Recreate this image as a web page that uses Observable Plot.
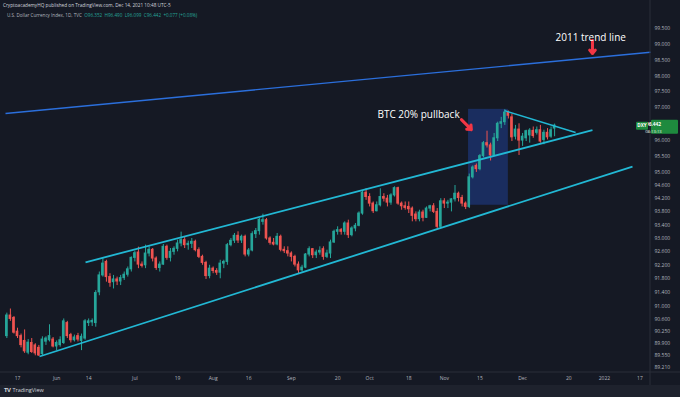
<!DOCTYPE html>
<html><head><meta charset="utf-8">
<script src="https://cdn.jsdelivr.net/npm/d3@7"></script>
<script src="https://cdn.jsdelivr.net/npm/@observablehq/plot@0.6"></script>
<style>
body{margin:0;background:#1e222d;}
#wrap{position:relative;width:680px;height:397px;background:#1e222d;overflow:hidden;font-family:"Open Sans",sans-serif;}
#chart{position:absolute;left:0;top:0;}
.hd{position:absolute;white-space:nowrap;color:#d1d4dc;}
#h1{left:3px;top:2px;font-size:4.7px;}
#h2{left:7px;top:12px;font-size:4.6px;color:#b2b5be;}
#h2 span{color:#26a69a;}
#foot{position:absolute;left:4px;top:386px;font-size:5.5px;color:#d1d4dc;}
#foot b{font-size:6px;letter-spacing:-0.5px;margin-right:2px;}
</style></head>
<body><div id="wrap">
<div id="chart"></div>
<div class="hd" id="h1">CryptoacademyHQ published on TradingView.com, Dec 14, 2021 10:48 UTC-5</div>
<div class="hd" id="h2">U.S. Dollar Currency Index, 1D, TVC &nbsp;<span>O96.352 &nbsp;H96.490 &nbsp;L96.099 &nbsp;C96.442 &nbsp;+0.077 (+0.08%)</span></div>
<div id="foot"><b>TV</b>TradingView</div>
</div>
<script>
// ---- data ----
const dates = [
"2021-05-12","2021-05-13","2021-05-14","2021-05-17","2021-05-18","2021-05-19","2021-05-20","2021-05-21","2021-05-24","2021-05-25","2021-05-26","2021-05-27","2021-05-28","2021-05-31",
"2021-06-01","2021-06-02","2021-06-03","2021-06-04","2021-06-07","2021-06-08","2021-06-09","2021-06-10","2021-06-11","2021-06-14","2021-06-15","2021-06-16","2021-06-17","2021-06-18","2021-06-21","2021-06-22","2021-06-23","2021-06-24","2021-06-25","2021-06-28","2021-06-29","2021-06-30",
"2021-07-01","2021-07-02","2021-07-05","2021-07-06","2021-07-07","2021-07-08","2021-07-09","2021-07-12","2021-07-13","2021-07-14","2021-07-15","2021-07-16","2021-07-19","2021-07-20","2021-07-21","2021-07-22","2021-07-23","2021-07-26","2021-07-27","2021-07-28","2021-07-29","2021-07-30",
"2021-08-02","2021-08-03","2021-08-04","2021-08-05","2021-08-06","2021-08-09","2021-08-10","2021-08-11","2021-08-12","2021-08-13","2021-08-16","2021-08-17","2021-08-18","2021-08-19","2021-08-20","2021-08-23","2021-08-24","2021-08-25","2021-08-26","2021-08-27","2021-08-30","2021-08-31",
"2021-09-01","2021-09-02","2021-09-03","2021-09-06","2021-09-07","2021-09-08","2021-09-09","2021-09-10","2021-09-13","2021-09-14","2021-09-15","2021-09-16","2021-09-17","2021-09-20","2021-09-21","2021-09-22","2021-09-23","2021-09-24","2021-09-27","2021-09-28","2021-09-29","2021-09-30",
"2021-10-01","2021-10-04","2021-10-05","2021-10-06","2021-10-07","2021-10-08","2021-10-11","2021-10-12","2021-10-13","2021-10-14","2021-10-15","2021-10-18","2021-10-19","2021-10-20","2021-10-21","2021-10-22","2021-10-25","2021-10-26","2021-10-27","2021-10-28","2021-10-29",
"2021-11-01","2021-11-02","2021-11-03","2021-11-04","2021-11-05","2021-11-08","2021-11-09","2021-11-10","2021-11-11","2021-11-12","2021-11-15","2021-11-16","2021-11-17","2021-11-18","2021-11-19","2021-11-22","2021-11-23","2021-11-24","2021-11-25","2021-11-26","2021-11-29","2021-11-30",
"2021-12-01","2021-12-02","2021-12-03","2021-12-06","2021-12-07","2021-12-08","2021-12-09","2021-12-10","2021-12-13","2021-12-14"];
const open = [
90.12,90.72,90.65,90.25,90.12,89.98,89.64,89.92,89.85,89.78,89.60,89.96,90.00,90.02,
89.82,89.86,89.92,90.50,90.15,90.00,90.12,89.98,90.05,90.50,90.52,90.50,91.40,91.90,92.30,91.85,91.70,91.78,91.72,91.82,91.92,92.08,
92.42,92.58,92.22,92.20,92.55,92.66,92.40,92.12,92.22,92.75,92.42,92.60,92.69,92.85,92.95,92.80,92.84,92.90,92.65,92.45,92.27,91.88,
92.10,92.03,91.98,92.25,92.30,92.80,92.93,93.08,92.94,93.05,92.52,92.64,93.13,93.22,93.50,93.55,93.00,92.87,92.82,93.05,92.66,92.62,
92.55,92.45,92.22,92.05,92.13,92.52,92.68,92.50,92.58,92.68,92.45,92.55,92.88,93.20,93.25,93.20,93.45,93.10,93.30,93.38,93.75,94.38,
94.25,94.05,93.82,94.00,94.25,94.20,94.08,94.30,94.52,94.05,93.97,93.95,93.90,93.72,93.58,93.78,93.62,93.90,93.97,93.80,93.35,
94.12,94.05,94.08,94.18,94.35,94.22,94.05,93.95,94.85,95.20,95.10,95.50,95.90,95.83,95.52,96.05,96.50,96.55,96.85,96.70,96.10,96.32,
95.98,96.05,96.14,96.28,96.22,96.30,96.00,96.22,96.10,96.352];
const high = [
90.79,90.91,90.69,90.35,90.18,90.30,90.02,90.05,89.90,89.85,90.10,90.10,90.45,90.08,
89.98,90.10,90.62,90.55,90.20,90.15,90.20,90.18,90.60,90.62,90.62,91.45,92.00,92.41,92.35,91.95,91.90,91.85,91.90,92.00,92.15,92.45,
92.62,92.74,92.30,92.80,92.75,92.70,92.45,92.30,92.82,92.80,92.70,92.75,92.95,93.19,93.05,92.92,93.00,92.95,92.72,92.50,92.32,92.20,
92.15,92.10,92.35,92.35,92.85,93.00,93.15,93.20,93.10,93.10,92.70,93.20,93.30,93.60,93.73,93.60,93.05,93.00,93.15,93.10,92.75,92.75,
92.60,92.50,92.30,92.20,92.55,92.75,92.70,92.65,92.75,92.75,92.65,92.95,93.25,93.35,93.30,93.50,93.55,93.35,93.45,93.80,94.43,94.50,
94.35,94.10,94.10,94.50,94.35,94.30,94.35,94.56,94.55,94.10,94.10,94.10,93.95,93.80,93.85,93.85,93.95,94.00,94.05,93.90,94.20,
94.20,94.15,94.20,94.60,94.40,94.30,94.10,94.95,95.20,95.26,95.55,95.95,96.27,95.90,96.20,96.55,96.70,96.94,96.90,96.80,96.45,96.50,
96.20,96.30,96.35,96.40,96.40,96.45,96.30,96.35,96.40,96.490];
const low = [
90.05,90.55,90.18,90.05,89.78,89.62,89.58,89.62,89.55,89.53,89.55,89.85,89.95,89.78,
89.70,89.80,89.88,90.05,89.92,89.95,89.95,89.70,90.00,90.40,90.40,90.38,91.30,91.85,91.70,91.55,91.50,91.60,91.60,91.75,91.85,92.00,
92.30,92.10,92.12,92.10,92.45,92.30,92.05,92.00,92.20,92.35,92.30,92.50,92.60,92.75,92.70,92.65,92.70,92.60,92.40,92.20,91.78,91.80,
91.95,91.90,91.80,92.10,92.20,92.75,92.85,92.85,92.85,92.45,92.45,92.60,93.00,93.10,93.40,92.95,92.80,92.78,92.78,92.60,92.55,92.45,
92.30,92.15,91.94,92.00,92.10,92.45,92.40,92.40,92.50,92.35,92.40,92.40,92.85,93.10,93.10,93.10,93.00,93.05,93.20,93.35,93.70,94.15,
93.95,93.75,93.80,93.95,94.10,93.95,94.00,94.25,94.00,93.85,93.85,93.75,93.50,93.50,93.50,93.50,93.60,93.80,93.75,93.28,93.30,
93.90,93.90,93.80,94.10,94.10,93.95,93.87,93.90,94.80,95.00,95.05,95.45,95.75,95.35,95.50,95.95,96.35,96.45,96.65,95.95,96.00,95.52,
95.80,95.95,95.90,96.05,96.15,95.90,95.85,96.00,96.05,96.099];
const close = [
90.72,90.62,90.22,90.12,89.86,89.68,89.93,89.66,89.62,89.56,90.02,90.05,90.12,89.82,
89.92,90.00,90.55,90.12,90.00,90.08,90.02,90.10,90.55,90.55,90.56,91.38,91.90,92.25,91.85,91.68,91.78,91.72,91.82,91.92,92.08,92.42,
92.56,92.22,92.18,92.55,92.66,92.40,92.12,92.22,92.75,92.42,92.60,92.69,92.85,92.95,92.80,92.84,92.90,92.65,92.45,92.27,91.88,92.10,
92.03,91.98,92.25,92.30,92.80,92.93,93.08,92.94,93.05,92.52,92.64,93.13,93.22,93.56,93.55,93.00,92.87,92.82,93.05,92.66,92.62,92.55,
92.45,92.22,92.05,92.13,92.52,92.68,92.50,92.58,92.63,92.45,92.55,92.88,93.20,93.25,93.20,93.45,93.10,93.30,93.38,93.75,94.38,94.25,
94.05,93.82,94.00,94.25,94.20,94.08,94.30,94.52,94.05,93.97,93.92,93.88,93.68,93.58,93.78,93.62,93.90,93.97,93.80,93.35,94.12,
94.05,94.08,94.18,94.35,94.22,94.05,93.95,94.85,95.15,95.10,95.50,95.90,95.83,95.52,96.05,96.50,96.55,96.85,96.75,96.08,96.32,95.98,
96.10,96.27,96.29,96.12,96.30,95.95,96.22,96.08,96.30,96.442];

const tickDates  = ["2021-05-17","2021-06-01","2021-06-14","2021-07-01","2021-07-19","2021-08-02","2021-08-16","2021-09-01","2021-09-20","2021-10-01","2021-10-18","2021-11-01","2021-11-15","2021-12-01","2021-12-20","2022-01-03","2022-01-17"];
const tickLabels = ["17","Jun","14","Jul","19","Aug","16","Sep","20","Oct","18","Nov","15","Dec","20","2022","17"];
const priceTicks = [99.5,99.0,98.5,98.0,97.5,97.0,96.0,95.5,95.0,94.6,94.2,93.8,93.4,93.0,92.6,92.2,91.8,91.4,91.0,90.6,90.25,89.9,89.55,89.21];

// drawn trend lines: bar index (from first bar) and price at both ends
const lineNames = ["2011","channelTop","channelBottom","triangleTop"];
const lineX1 = [-0.37, 22.12, 9.18, 139.9];
const lineP1 = [96.82, 92.29, 89.53, 96.91];
const lineX2 = [180.96, 164.65, 175.9, 159.9];
const lineP2 = [98.75, 96.30, 95.18, 96.23];

// highlighted zone
const zoneX = [129.8, 141.0];
const zoneP = [94.0, 96.95];

// notes and arrows
const noteText = ["2011 trend line", "BTC 20% pullback"];
const noteX = [154.25, 104.2];
const noteP = [99.22, 96.77];
const arrowX1 = [164.65, 127.8], arrowP1 = [99.13, 96.63];
const arrowX2 = [164.65, 130.6], arrowP2 = [98.71, 96.32];

const lastLabel = {symbol: "DXY", price: 96.442, countdown: "08:13:13"};

// ---- build ----
const parse = d3.utcParse("%Y-%m-%d");
const start = parse(dates[0]);
const barIndex = d => d3.utcDay.range(start, d).filter(t => t.getUTCDay() % 6 !== 0).length;
const candles = dates.map((d, k) => ({i: barIndex(parse(d)), o: open[k], h: high[k], l: low[k], c: close[k]}));
const tickIdx = tickDates.map(d => barIndex(parse(d)));
const ticks = tickIdx.map((v, k) => ({i: v, label: tickLabels[k]}));
const lines = lineNames.map((n, k) => ({n, x1: lineX1[k], y1: lineP1[k], x2: lineX2[k], y2: lineP2[k]}));
const notes = noteText.map((t, k) => ({t, x: noteX[k], y: noteP[k]}));
const arrows = arrowX1.map((v, k) => ({x1: v, y1: arrowP1[k], x2: arrowX2[k], y2: arrowP2[k]}));

const UP = "#26a69a", DOWN = "#ef5350";
const col = d => d.c >= d.o ? UP : DOWN;
const lineColor = {"2011": "#2b6fdc", channelTop: "#22b8d4", channelBottom: "#22b8d4", triangleTop: "#22b8d4"};
const lineWidth = {"2011": 1.4, channelTop: 1.8, channelBottom: 1.8, triangleTop: 1.5};
const X_DOMAIN = [-1.78, 180.96], Y_DOMAIN = [89.07, 100.41];
const fmt = d3.format(".3f");

const chart = Plot.plot({
  width: 680, height: 385,
  marginLeft: 0, marginRight: 30, marginTop: 0, marginBottom: 13,
  style: {background: "#151924", color: "#b2b5be", fontFamily: "Open Sans, sans-serif", fontSize: "5px", overflow: "visible"},
  x: {type: "linear", domain: X_DOMAIN, axis: null},
  y: {type: "log", domain: Y_DOMAIN, axis: null},
  marks: [
    Plot.rect([0], {x1: () => zoneX[0], x2: () => zoneX[1], y1: () => zoneP[0], y2: () => zoneP[1], fill: "#2962ff", fillOpacity: 0.27}),
    Plot.ruleX(candles, {x: "i", y1: "l", y2: "h", stroke: col, strokeWidth: 1}),
    Plot.rect(candles, {x1: d => d.i - 0.37, x2: d => d.i + 0.37, y1: "o", y2: "c", fill: col, insetTop: -0.5, insetBottom: -0.5}),
    Plot.link(lines, {x1: "x1", y1: "y1", x2: "x2", y2: "y2", stroke: d => lineColor[d.n], strokeWidth: d => lineWidth[d.n]}),
    Plot.arrow(arrows, {x1: "x1", y1: "y1", x2: "x2", y2: "y2", stroke: "#f23645", strokeWidth: 3, headLength: 7, headAngle: 80}),
    Plot.text(notes, {x: "x", y: "y", text: "t", textAnchor: "start", fill: "#ffffff", fontSize: 10, fontFamily: "Open Sans, sans-serif"}),
    // time axis labels (below the frame)
    Plot.text(ticks, {x: "i", y: Y_DOMAIN[0], text: "label", dy: 6, fill: "#b2b5be", fontSize: 5, lineAnchor: "middle"}),
    // price axis labels (right of the frame)
    Plot.text(priceTicks, {x: X_DOMAIN[1], y: d => d, text: d => fmt(d), dx: 4, textAnchor: "start", fill: "#b2b5be", fontSize: 5})
  ]
});
document.getElementById("chart").appendChild(chart);

// separators and the last-price label, placed with the chart's scales
const sx = chart.scale("x"), sy = chart.scale("y");
const svg = d3.select(chart);
const xr = sx.range[1], yb = sy.range[0];
svg.append("line").attr("x1", xr).attr("x2", xr).attr("y1", 0).attr("y2", 385).attr("stroke", "#2a2e39");
svg.append("line").attr("x1", 0).attr("x2", 680).attr("y1", yb).attr("y2", yb).attr("stroke", "#2a2e39");
const yl = sy.apply(lastLabel.price);
const g = svg.append("g").attr("font-family", "Open Sans, sans-serif");
g.append("rect").attr("x", xr + 1).attr("y", yl - 5.5).attr("width", 27).attr("height", 14).attr("fill", "#1e8a3e").attr("rx", 1);
g.append("text").attr("x", xr + 3.5).attr("y", yl + 1).attr("font-size", 4.8).attr("font-weight", "bold").attr("fill", "#fff").text(lastLabel.price.toFixed(3));
g.append("text").attr("x", xr + 3.5).attr("y", yl + 7.4).attr("font-size", 4.2).attr("fill", "#e0f2e5").text(lastLabel.countdown);
g.append("rect").attr("x", xr - 14).attr("y", yl - 3.5).attr("width", 12).attr("height", 8).attr("fill", "#1e8a3e").attr("rx", 1);
g.append("text").attr("x", xr - 8).attr("y", yl + 2.2).attr("text-anchor", "middle").attr("font-size", 4.6).attr("font-weight", "bold").attr("fill", "#fff").text(lastLabel.symbol);
</script>
</body></html>
